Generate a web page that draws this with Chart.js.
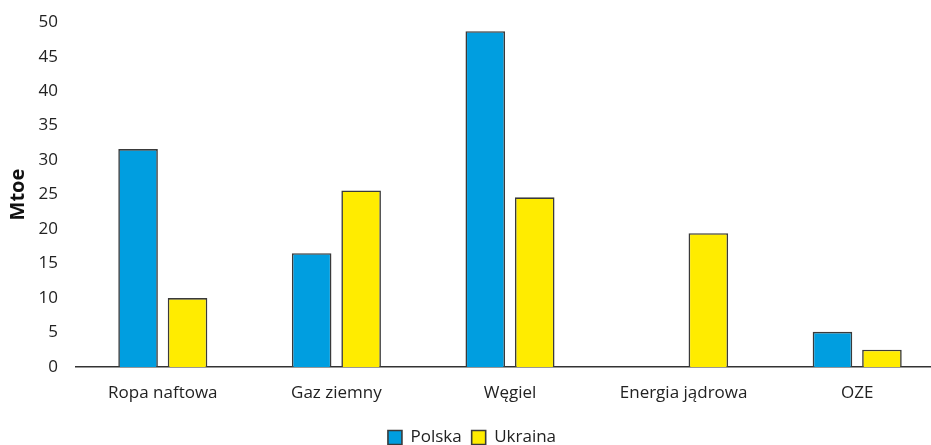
<!DOCTYPE html>
<html>
<head>
<meta charset="utf-8">
<script src="https://cdn.jsdelivr.net/npm/chart.js@4.4.0/dist/chart.umd.min.js"></script>
<style>
html,body{margin:0;padding:0;background:#fff;overflow:hidden;width:931px;height:445px;}
#wrap{width:944px;height:462px;margin-top:-6px;}
</style>
</head>
<body>
<div id="wrap"><canvas id="c" width="944" height="462"></canvas></div>
<script>
const categories = ["Ropa naftowa", "Gaz ziemny", "Węgiel", "Energia jądrowa", "OZE"];
const polska = [31.6, 16.5, 48.7, 0, 5.1];
const ukraina = [10.0, 25.6, 24.6, 19.4, 2.5];
const yTicks = [0, 5, 10, 15, 20, 25, 30, 35, 40, 45, 50];

const font = "'Open Sans', 'Noto Sans', sans-serif";
new Chart(document.getElementById('c'), {
  type: 'bar',
  data: {
    labels: categories,
    datasets: [
      {label: 'Polska', data: polska, backgroundColor: '#009EE0', borderColor: '#3a3a3a', borderWidth: 1.6, borderSkipped: 'bottom', barPercentage: 0.8, categoryPercentage: 0.57},
      {label: 'Ukraina', data: ukraina, backgroundColor: '#FFEC00', borderColor: '#3a3a3a', borderWidth: 1.6, borderSkipped: 'bottom', barPercentage: 0.8, categoryPercentage: 0.57}
    ]
  },
  options: {
    responsive: false,
    animation: false,
    layout: {padding: {top: 6, left: 0, right: 0, bottom: 0}},
    plugins: {
      legend: {
        position: 'bottom',
        labels: {font: {family: font, size: 17}, color: '#222', boxWidth: 14, boxHeight: 14, padding: 10}
      },
      tooltip: {enabled: false}
    },
    scales: {
      x: {
        grid: {display: false, drawTicks: false},
        border: {display: true, color: '#333', width: 1.6},
        ticks: {font: {family: font, size: 17}, color: '#222', padding: 16},
        afterFit: s => { s.height = 52; }
      },
      y: {
        min: 0, max: 50,
        afterBuildTicks: s => { s.ticks = yTicks.map(v => ({value: v})); },
        grid: {display: false, drawTicks: false},
        border: {display: false},
        ticks: {font: {family: font, size: 17}, color: '#222', padding: 18},
        title: {display: true, text: 'Mtoe', font: {family: font, size: 20, weight: 'bold'}, color: '#111', padding: {top: 6, bottom: 0}},
        afterFit: s => { s.width = 76; }
      }
    }
  }
});
</script>
</body>
</html>
